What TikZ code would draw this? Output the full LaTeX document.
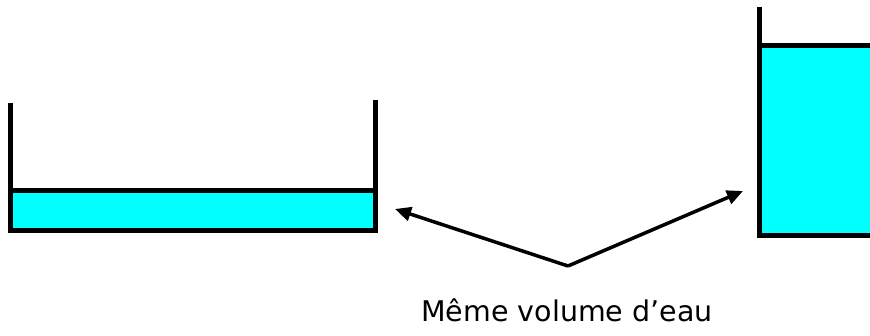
\documentclass[tikz,border=0pt]{standalone}
\usepackage{fontspec}
\setmainfont{DejaVu Sans}
\usetikzlibrary{arrows.meta}
\begin{document}
\begin{tikzpicture}[x=1pt,y=-1pt,
  wall/.style={line width=5.5pt,line cap=butt},
  water/.style={fill={rgb,255:red,0;green,255;blue,255}},
  arr/.style={line width=3.5pt,-{Triangle[length=16pt,width=14pt]}}]
\useasboundingbox (0,0) rectangle (870,336);
% left container
\fill[water] (10.5,190.5) rectangle (375.5,230.5);
\draw[wall] (10.5,190.5) -- (375.5,190.5);
\draw[wall] (10.5,103) -- (10.5,233) ;
\draw[wall] (375.5,100) -- (375.5,233);
\draw[wall] (8,230.5) -- (378,230.5);
% right container
\fill[water] (759.5,45.5) rectangle (872,235.5);
\draw[wall] (759.5,45.5) -- (872,45.5);
\draw[wall] (759.5,7) -- (759.5,238);
\draw[wall] (757,235.5) -- (872,235.5);
% arrows
\coordinate (v) at (568,266);
\coordinate (lt) at (395,209);
\coordinate (rt) at (743,191);
\draw[arr] (v) -- (lt);
\draw[arr] (v) -- (rt);
\node[font=\fontsize{28.5}{32}\selectfont,inner sep=0pt,anchor=base] (lab) at (567,322) {Même volume d’eau};
\end{tikzpicture}
\end{document}
